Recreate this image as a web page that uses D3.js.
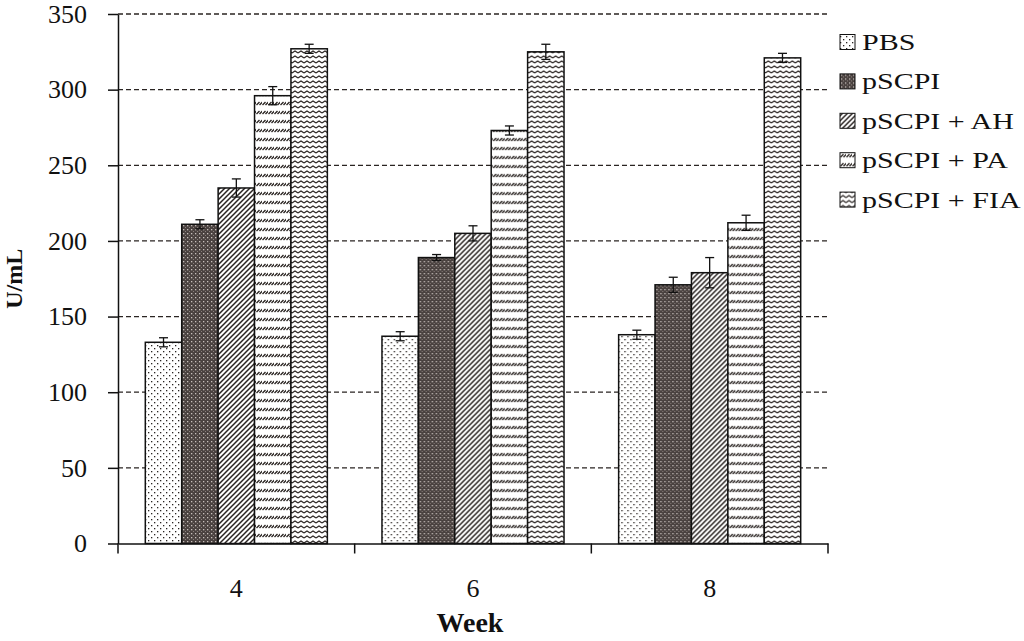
<!DOCTYPE html>
<html>
<head>
<meta charset="utf-8">
<script src="https://cdn.jsdelivr.net/npm/d3@7"></script>
<style>
  body { margin: 0; background: #fff; }
</style>
</head>
<body>
<svg id="chart" width="1024" height="641"></svg>
<script>
const weeks = ['4', '6', '8']
const groups = ['PBS', 'pSCPI', 'pSCPI + AH', 'pSCPI + PA', 'pSCPI + FIA']
const means = {
  'PBS':         [133, 137, 138],
  'pSCPI':       [211, 189, 171],
  'pSCPI + AH':  [235, 205, 179],
  'pSCPI + PA':  [296, 273, 212],
  'pSCPI + FIA': [327, 325, 321]
}
const errors = {
  'PBS':         [3, 3, 3],
  'pSCPI':       [3, 2, 5],
  'pSCPI + AH':  [6, 5, 10],
  'pSCPI + PA':  [6, 3, 5],
  'pSCPI + FIA': [3, 5, 3]
}
const yTicks = [0, 50, 100, 150, 200, 250, 300, 350]

const svg = d3.select('#chart')
const width = 1024, height = 641
const margin = { top: 14, right: 196, bottom: 97.5, left: 118 }
const serif = '"Liberation Serif", "Times New Roman", Times, serif'

// patterns
const defs = svg.append('defs')
const ink = '#2a2422'

const pDots = defs.append('pattern').attr('id', 'p0').attr('patternUnits', 'userSpaceOnUse')
  .attr('width', 6).attr('height', 6)
pDots.append('rect').attr('width', 6).attr('height', 6).attr('fill', '#fff')
pDots.append('rect').attr('x', 0).attr('y', 0).attr('width', 1.3).attr('height', 1.3).attr('fill', ink)
pDots.append('rect').attr('x', 3).attr('y', 3).attr('width', 1.3).attr('height', 1.3).attr('fill', ink)

const pDark = defs.append('pattern').attr('id', 'p1').attr('patternUnits', 'userSpaceOnUse')
  .attr('width', 4).attr('height', 4)
pDark.append('rect').attr('width', 4).attr('height', 4).attr('fill', '#4a4240')
pDark.append('rect').attr('x', 1).attr('y', 1).attr('width', 1.3).attr('height', 1.3).attr('fill', '#c8c0bc')
pDark.append('rect').attr('x', 3).attr('y', 3).attr('width', 1).attr('height', 1).attr('fill', '#8a807c')

const pDiag = defs.append('pattern').attr('id', 'p2').attr('patternUnits', 'userSpaceOnUse')
  .attr('width', 5).attr('height', 5)
pDiag.append('rect').attr('width', 5).attr('height', 5).attr('fill', '#fff')
pDiag.append('path').attr('d', 'M-1,1 L1,-1 M0,5 L5,0 M4,6 L6,4')
  .attr('stroke', ink).attr('stroke-width', 1.5)

const pDash = defs.append('pattern').attr('id', 'p3').attr('patternUnits', 'userSpaceOnUse')
  .attr('width', 6).attr('height', 9)
pDash.append('rect').attr('width', 6).attr('height', 9).attr('fill', '#fff')
pDash.append('path').attr('d', 'M0.5,6 L3.5,3 M3.5,6 L6.5,3')
  .attr('stroke', ink).attr('stroke-width', 1.4)

const pWave = defs.append('pattern').attr('id', 'p4').attr('patternUnits', 'userSpaceOnUse')
  .attr('width', 6).attr('height', 5)
pWave.append('rect').attr('width', 6).attr('height', 5).attr('fill', '#fff')
pWave.append('path').attr('d', 'M0,3 L3,1 L6,3')
  .attr('stroke', ink).attr('stroke-width', 1.1).attr('fill', 'none')

const fills = groups.map((g, i) => `url(#p${i})`)

const x0 = d3.scaleBand().domain(weeks)
  .range([margin.left, width - margin.right]).paddingInner(0).paddingOuter(0)
const x1 = d3.scaleBand().domain(groups)
  .range([0, x0.bandwidth()]).paddingInner(0).paddingOuter(0.75)
const y = d3.scaleLinear().domain([0, 350]).range([height - margin.bottom, margin.top])

// gridlines
svg.append('g')
  .selectAll('line')
  .data(yTicks.slice(1))
  .join('line')
  .attr('x1', margin.left).attr('x2', width - margin.right)
  .attr('y1', d => y(d)).attr('y2', d => y(d))
  .attr('stroke', ink).attr('stroke-width', 1.3).attr('stroke-dasharray', '5,3')

// bars
const weekG = svg.append('g')
  .selectAll('g')
  .data(weeks)
  .join('g')
  .attr('transform', d => `translate(${x0(d)},0)`)

const rows = (w, wi) => groups.map((g, gi) => ({ g, gi, v: means[g][wi], e: errors[g][wi] }))

weekG.selectAll('rect')
  .data(rows)
  .join('rect')
  .attr('x', d => x1(d.g))
  .attr('y', d => y(d.v))
  .attr('width', x1.bandwidth())
  .attr('height', d => y(0) - y(d.v))
  .attr('fill', d => fills[d.gi])
  .attr('stroke', '#111').attr('stroke-width', 1.5)

// error bars
const eb = weekG.selectAll('g.err')
  .data(rows)
  .join('g').attr('class', 'err')
  .attr('transform', d => `translate(${x1(d.g) + x1.bandwidth() / 2},0)`)
eb.append('line').attr('y1', d => y(d.v + d.e)).attr('y2', d => y(d.v - d.e))
  .attr('stroke', '#111').attr('stroke-width', 1.3)
eb.append('line').attr('x1', -4.5).attr('x2', 4.5).attr('y1', d => y(d.v + d.e)).attr('y2', d => y(d.v + d.e))
  .attr('stroke', '#111').attr('stroke-width', 1.3)
eb.append('line').attr('x1', -4.5).attr('x2', 4.5).attr('y1', d => y(d.v - d.e)).attr('y2', d => y(d.v - d.e))
  .attr('stroke', '#111').attr('stroke-width', 1.3)

// y axis
const yAxis = svg.append('g')
  .attr('transform', `translate(${margin.left},0)`)
  .call(d3.axisLeft(y).tickValues(yTicks).tickSize(10).tickPadding(21).tickSizeOuter(0))
yAxis.attr('font-family', serif)
yAxis.select('.domain').attr('stroke', '#111').attr('stroke-width', 1.5)
yAxis.selectAll('.tick line').attr('stroke', '#111').attr('stroke-width', 1.5)
yAxis.selectAll('.tick text').style('font-family', serif).style('font-size', '26px').attr('fill', '#111')

// x axis
const xAxis = svg.append('g')
  .attr('transform', `translate(0,${y(0)})`)
  .call(d3.axisBottom(x0).tickSize(0).tickPadding(35))
xAxis.attr('font-family', serif)
xAxis.select('.domain').attr('stroke', '#111').attr('stroke-width', 1.5)
xAxis.selectAll('.tick text').style('font-family', serif).style('font-size', '26px').attr('fill', '#111')
xAxis.selectAll('line.sep')
  .data(d3.range(weeks.length + 1))
  .join('line').attr('class', 'sep')
  .attr('x1', i => margin.left + i * x0.bandwidth())
  .attr('x2', i => margin.left + i * x0.bandwidth())
  .attr('y1', 0).attr('y2', 10)
  .attr('stroke', '#111').attr('stroke-width', 1.5)

// axis titles
svg.append('text')
  .attr('transform', `translate(22,${(margin.top + y(0)) / 2}) rotate(-90)`)
  .attr('text-anchor', 'middle')
  .style('font-family', serif)
  .style('font-size', '24px').style('font-weight', 'bold')
  .attr('fill', '#111')
  .text('U/mL')
svg.append('text')
  .attr('x', 470).attr('y', 632)
  .attr('text-anchor', 'middle')
  .style('font-family', serif)
  .style('font-size', '28px').style('font-weight', 'bold')
  .attr('fill', '#111')
  .text('Week')

// legend
const legend = svg.append('g').attr('transform', 'translate(840,42)')
const li = legend.selectAll('g').data(groups).join('g')
  .attr('transform', (d, i) => `translate(0,${i * 39.4})`)
li.append('rect').attr('x', 0).attr('y', -7.5).attr('width', 15).attr('height', 15)
  .attr('fill', (d, i) => fills[i]).attr('stroke', '#111').attr('stroke-width', 1)
li.append('text')
  .attr('transform', 'translate(22,8) scale(1.25,1)')
  .style('font-family', serif)
  .style('font-size', '24px')
  .attr('fill', '#111')
  .text(d => d)
</script>
</body>
</html>
